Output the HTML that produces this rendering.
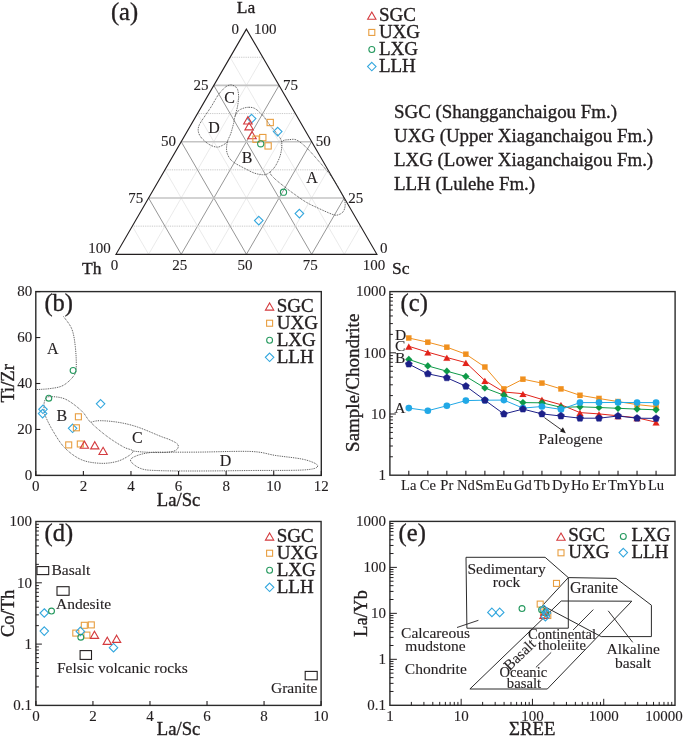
<!DOCTYPE html>
<html><head><meta charset="utf-8"><title>Geochemical diagrams</title>
<style>
html,body{margin:0;padding:0;background:#fff;}
body{width:685px;height:737px;overflow:hidden;}
svg{display:block;will-change:transform;}
svg text{font-family:"Liberation Serif", serif;stroke:#231f20;stroke-width:0.35px;}
svg text.s{stroke-width:0.12px;}
</style></head>
<body>
<svg width="685" height="737" viewBox="0 0 685 737">
<rect width="685" height="737" fill="#fff"/>
<line x1="230.10" y1="57.25" x2="262.71" y2="57.25" stroke="#b4b4b4" stroke-width="0.8" stroke-dasharray="0.9 0.9"/>
<line x1="148.61" y1="254.30" x2="262.71" y2="57.25" stroke="#e4e4e4" stroke-width="0.8" />
<line x1="344.29" y1="254.30" x2="230.10" y2="57.25" stroke="#e4e4e4" stroke-width="0.8" />
<line x1="213.80" y1="85.40" x2="279.02" y2="85.40" stroke="#c4c4c4" stroke-width="1.6" />
<line x1="181.22" y1="254.30" x2="279.02" y2="85.40" stroke="#8a8a8a" stroke-width="0.9" />
<line x1="311.67" y1="254.30" x2="213.80" y2="85.40" stroke="#8a8a8a" stroke-width="0.9" />
<line x1="197.50" y1="113.55" x2="295.34" y2="113.55" stroke="#b4b4b4" stroke-width="0.8" stroke-dasharray="0.9 0.9"/>
<line x1="213.84" y1="254.30" x2="295.34" y2="113.55" stroke="#e4e4e4" stroke-width="0.8" />
<line x1="279.06" y1="254.30" x2="197.50" y2="113.55" stroke="#e4e4e4" stroke-width="0.8" />
<line x1="181.20" y1="141.70" x2="311.65" y2="141.70" stroke="#c4c4c4" stroke-width="1.6" />
<line x1="246.45" y1="254.30" x2="311.65" y2="141.70" stroke="#8a8a8a" stroke-width="0.9" />
<line x1="246.45" y1="254.30" x2="181.20" y2="141.70" stroke="#8a8a8a" stroke-width="0.9" />
<line x1="164.90" y1="169.85" x2="327.96" y2="169.85" stroke="#b4b4b4" stroke-width="0.8" stroke-dasharray="0.9 0.9"/>
<line x1="279.06" y1="254.30" x2="327.96" y2="169.85" stroke="#e4e4e4" stroke-width="0.8" />
<line x1="213.84" y1="254.30" x2="164.90" y2="169.85" stroke="#e4e4e4" stroke-width="0.8" />
<line x1="148.60" y1="198.00" x2="344.27" y2="198.00" stroke="#c4c4c4" stroke-width="1.6" />
<line x1="311.67" y1="254.30" x2="344.27" y2="198.00" stroke="#8a8a8a" stroke-width="0.9" />
<line x1="181.22" y1="254.30" x2="148.60" y2="198.00" stroke="#8a8a8a" stroke-width="0.9" />
<line x1="132.30" y1="226.15" x2="360.59" y2="226.15" stroke="#b4b4b4" stroke-width="0.8" stroke-dasharray="0.9 0.9"/>
<line x1="344.29" y1="254.30" x2="360.59" y2="226.15" stroke="#e4e4e4" stroke-width="0.8" />
<line x1="148.61" y1="254.30" x2="132.30" y2="226.15" stroke="#e4e4e4" stroke-width="0.8" />
<path d="M246.40,29.10 L116.00,254.30 L376.90,254.30 Z" stroke="#231f20" stroke-width="1.15" fill="none" stroke-linejoin="miter" />
<text x="246.00" y="12.80" font-size="17.5" text-anchor="middle" fill="#231f20" >La</text>
<text x="82.00" y="273.60" font-size="17.5" text-anchor="start" fill="#231f20" >Th</text>
<text x="392.00" y="273.60" font-size="17.5" text-anchor="start" fill="#231f20" >Sc</text>
<text x="124.50" y="19.50" font-size="24.5" text-anchor="middle" fill="#231f20" >(a)</text>
<text class="s" x="239.10" y="33.70" font-size="15" text-anchor="end" fill="#231f20" >0</text>
<text class="s" x="208.50" y="90.00" font-size="15" text-anchor="end" fill="#231f20" >25</text>
<text class="s" x="175.90" y="146.30" font-size="15" text-anchor="end" fill="#231f20" >50</text>
<text class="s" x="143.30" y="202.60" font-size="15" text-anchor="end" fill="#231f20" >75</text>
<text class="s" x="110.70" y="252.80" font-size="15" text-anchor="end" fill="#231f20" >100</text>
<text class="s" x="254.00" y="33.70" font-size="15" text-anchor="start" fill="#231f20" >100</text>
<text class="s" x="283.02" y="90.00" font-size="15" text-anchor="start" fill="#231f20" >75</text>
<text class="s" x="315.65" y="146.30" font-size="15" text-anchor="start" fill="#231f20" >50</text>
<text class="s" x="348.27" y="202.60" font-size="15" text-anchor="start" fill="#231f20" >25</text>
<text class="s" x="379.90" y="252.50" font-size="15" text-anchor="start" fill="#231f20" >0</text>
<text class="s" x="114.50" y="269.60" font-size="15" text-anchor="middle" fill="#231f20" >0</text>
<text class="s" x="179.72" y="269.60" font-size="15" text-anchor="middle" fill="#231f20" >25</text>
<text class="s" x="244.95" y="269.60" font-size="15" text-anchor="middle" fill="#231f20" >50</text>
<text class="s" x="310.17" y="269.60" font-size="15" text-anchor="middle" fill="#231f20" >75</text>
<text class="s" x="373.90" y="269.60" font-size="15" text-anchor="middle" fill="#231f20" >100</text>
<path d="M249.20,107.30 C251.07,107.38 252.83,107.33 255.00,108.60 C257.17,109.87 259.70,112.17 262.20,114.90 C264.70,117.63 267.45,121.73 270.00,125.00 C272.55,128.27 275.57,131.68 277.50,134.50 C279.43,137.32 281.07,138.68 281.60,141.90 C282.13,145.12 281.65,149.92 280.70,153.80 C279.75,157.68 277.65,162.20 275.90,165.20 C274.15,168.20 272.10,170.22 270.20,171.80 C268.30,173.38 267.03,174.45 264.50,174.70 C261.97,174.95 258.17,174.28 255.00,173.30 C251.83,172.32 248.95,170.57 245.50,168.80 C242.05,167.03 237.02,164.57 234.30,162.70 C231.58,160.83 230.48,159.65 229.20,157.60 C227.92,155.55 226.88,153.08 226.60,150.40 C226.32,147.72 226.80,144.32 227.50,141.50 C228.20,138.68 229.80,136.45 230.80,133.50 C231.80,130.55 232.78,126.68 233.50,123.80 C234.22,120.92 234.28,118.37 235.10,116.20 C235.92,114.03 236.95,112.15 238.40,110.80 C239.85,109.45 242.00,108.68 243.80,108.10 C245.60,107.52 247.33,107.22 249.20,107.30 Z" fill="none" stroke="#3a3a3a" stroke-width="0.9" stroke-dasharray="0.9 0.9"/>
<path d="M235.10,116.20 C235.73,113.48 236.75,110.20 237.30,107.50 C237.85,104.80 238.22,102.35 238.40,100.00 C238.58,97.65 238.67,95.40 238.40,93.40 C238.13,91.40 237.88,89.40 236.80,88.00 C235.72,86.60 233.45,85.37 231.90,85.00 C230.35,84.63 228.95,85.12 227.50,85.80 C226.05,86.48 224.82,87.47 223.20,89.10 C221.58,90.73 219.78,92.70 217.80,95.60 C215.82,98.50 213.47,103.07 211.30,106.50 C209.13,109.93 206.80,113.13 204.80,116.20 C202.80,119.27 200.38,122.37 199.30,124.90 C198.22,127.43 197.93,129.23 198.30,131.40 C198.67,133.57 199.70,135.73 201.50,137.90 C203.30,140.07 206.57,142.87 209.10,144.40 C211.63,145.93 214.53,146.92 216.70,147.10 C218.87,147.28 220.30,146.43 222.10,145.50 C223.90,144.57 226.05,143.50 227.50,141.50" fill="none" stroke="#3a3a3a" stroke-width="0.9" stroke-dasharray="0.9 0.9"/>
<path d="M281.60,141.90 C283.15,139.53 287.43,139.88 290.00,139.60 C292.57,139.32 294.25,138.85 297.00,140.20 C299.75,141.55 302.98,144.33 306.50,147.70 C310.02,151.07 314.25,155.98 318.10,160.40 C321.95,164.82 326.15,169.58 329.60,174.20 C333.05,178.82 336.48,184.25 338.80,188.10 C341.12,191.95 342.43,194.62 343.50,197.30 C344.57,199.98 345.20,201.88 345.20,204.20 C345.20,206.52 344.57,209.47 343.50,211.20 C342.43,212.93 340.53,214.03 338.80,214.60 C337.07,215.17 336.55,215.68 333.10,214.60 C329.65,213.52 322.53,210.13 318.10,208.10 C313.67,206.07 310.35,204.65 306.50,202.40 C302.65,200.15 298.83,197.33 295.00,194.60 C291.17,191.87 287.08,188.85 283.50,186.00 C279.92,183.15 275.72,179.87 273.50,177.50 C271.28,175.13 269.80,173.85 270.20,171.80" fill="none" stroke="#3a3a3a" stroke-width="0.9" stroke-dasharray="0.9 0.9"/>
<text class="s" x="229.50" y="102.50" font-size="16" text-anchor="middle" fill="#231f20" >C</text>
<text class="s" x="214.00" y="132.50" font-size="16" text-anchor="middle" fill="#231f20" >D</text>
<text class="s" x="247.00" y="162.50" font-size="16" text-anchor="middle" fill="#231f20" >B</text>
<text class="s" x="312.00" y="183.00" font-size="16" text-anchor="middle" fill="#231f20" >A</text>
<path d="M251.60,114.30 L255.90,118.60 L251.60,122.90 L247.30,118.60 Z" stroke="#33a7de" stroke-width="1.1" fill="none" stroke-linejoin="miter" />
<path d="M277.70,127.30 L282.00,131.60 L277.70,135.90 L273.40,131.60 Z" stroke="#33a7de" stroke-width="1.1" fill="none" stroke-linejoin="miter" />
<path d="M299.40,209.30 L303.70,213.60 L299.40,217.90 L295.10,213.60 Z" stroke="#33a7de" stroke-width="1.1" fill="none" stroke-linejoin="miter" />
<path d="M258.80,216.30 L263.10,220.60 L258.80,224.90 L254.50,220.60 Z" stroke="#33a7de" stroke-width="1.1" fill="none" stroke-linejoin="miter" />
<path d="M247.90,116.62 L252.15,123.98 L243.65,123.98 Z" stroke="#d43a3e" stroke-width="1.1" fill="none" stroke-linejoin="miter" />
<path d="M249.10,122.52 L253.35,129.88 L244.85,129.88 Z" stroke="#d43a3e" stroke-width="1.1" fill="none" stroke-linejoin="miter" />
<path d="M252.00,131.42 L256.25,138.78 L247.75,138.78 Z" stroke="#d43a3e" stroke-width="1.1" fill="none" stroke-linejoin="miter" />
<rect x="267.05" y="119.35" width="6.3" height="6.3" stroke="#e89e40" stroke-width="1.1" fill="none"/>
<rect x="259.65" y="134.45" width="6.3" height="6.3" stroke="#e89e40" stroke-width="1.1" fill="none"/>
<rect x="252.85" y="136.05" width="6.3" height="6.3" stroke="#e89e40" stroke-width="1.1" fill="none"/>
<rect x="264.95" y="142.75" width="6.3" height="6.3" stroke="#e89e40" stroke-width="1.1" fill="none"/>
<circle cx="260.70" cy="143.80" r="3.1" stroke="#26995f" stroke-width="1.1" fill="none"/>
<circle cx="283.50" cy="192.20" r="3.1" stroke="#26995f" stroke-width="1.1" fill="none"/>
<path d="M371.80,12.06 L375.95,19.24 L367.65,19.24 Z" stroke="#d43a3e" stroke-width="1.1" fill="none" stroke-linejoin="miter" />
<text x="378.90" y="20.87" font-size="19" text-anchor="start" fill="#231f20" >SGC</text>
<rect x="368.80" y="29.42" width="6.0" height="6.0" stroke="#e89e40" stroke-width="1.1" fill="none"/>
<text x="378.90" y="37.94" font-size="19" text-anchor="start" fill="#231f20" >UXG</text>
<circle cx="371.80" cy="49.49" r="2.95" stroke="#26995f" stroke-width="1.1" fill="none"/>
<text x="378.90" y="55.01" font-size="19" text-anchor="start" fill="#231f20" >LXG</text>
<path d="M371.80,62.31 L376.05,66.56 L371.80,70.81 L367.55,66.56 Z" stroke="#33a7de" stroke-width="1.1" fill="none" stroke-linejoin="miter" />
<text x="378.90" y="72.08" font-size="19" text-anchor="start" fill="#231f20" >LLH</text>
<text x="394.00" y="118.40" font-size="18.9" text-anchor="start" fill="#231f20" >SGC (Shangganchaigou Fm.)</text>
<text x="394.00" y="142.20" font-size="18.9" text-anchor="start" fill="#231f20" >UXG (Upper Xiaganchaigou Fm.)</text>
<text x="394.00" y="166.00" font-size="18.9" text-anchor="start" fill="#231f20" >LXG (Lower Xiaganchaigou Fm.)</text>
<text x="394.00" y="189.80" font-size="18.9" text-anchor="start" fill="#231f20" >LLH (Lulehe Fm.)</text>
<path d="M63.50,316.50 C64.88,318.58 69.83,323.98 71.80,329.00 C73.77,334.02 74.57,340.17 75.30,346.60 C76.03,353.03 76.52,362.65 76.20,367.60 C75.88,372.55 75.60,373.32 73.40,376.30 C71.20,379.28 66.90,383.45 63.00,385.50 C59.10,387.55 54.58,387.92 50.00,388.60 C45.42,389.28 37.92,389.43 35.50,389.60" fill="none" stroke="#3a3a3a" stroke-width="0.9" stroke-dasharray="0.9 0.9"/>
<path d="M48.70,396.70 C52.03,396.53 59.55,396.67 65.00,399.00 C70.45,401.33 77.12,406.80 81.40,410.70 C85.68,414.60 86.42,418.12 90.70,422.40 C94.98,426.68 101.65,432.32 107.10,436.40 C112.55,440.48 119.12,444.48 123.40,446.90 C127.68,449.32 132.02,449.35 132.80,450.90 C133.58,452.45 130.83,454.42 128.10,456.20 C125.37,457.98 121.07,460.42 116.40,461.60 C111.73,462.78 105.93,463.62 100.10,463.30 C94.27,462.98 87.25,462.23 81.40,459.70 C75.55,457.17 69.67,452.77 65.00,448.10 C60.33,443.43 56.70,437.15 53.40,431.70 C50.10,426.25 46.77,419.68 45.20,415.40 C43.63,411.12 44.03,408.57 44.00,406.00 C43.97,403.43 44.22,401.55 45.00,400.00 C45.78,398.45 45.37,396.87 48.70,396.70 Z" fill="none" stroke="#3a3a3a" stroke-width="0.9" stroke-dasharray="0.9 0.9"/>
<path d="M132.80,450.90 C137.48,451.82 145.63,452.18 151.50,452.40 C157.37,452.62 163.83,452.63 168.00,452.20 C172.17,451.77 174.87,451.08 176.50,449.80 C178.13,448.52 178.88,446.17 177.80,444.50 C176.72,442.83 172.83,441.15 170.00,439.80 C167.17,438.45 166.22,438.53 160.80,436.40 C155.38,434.27 144.50,429.33 137.50,427.00 C130.50,424.67 125.03,423.45 118.80,422.40 C112.57,421.35 104.78,420.70 100.10,420.70 C95.42,420.70 93.22,421.52 90.70,422.40" fill="none" stroke="#3a3a3a" stroke-width="0.9" stroke-dasharray="0.9 0.9"/>
<path d="M130.60,460.80 C129.93,458.63 133.52,457.00 137.00,455.60 C140.48,454.20 146.33,452.97 151.50,452.40 C156.67,451.83 159.92,452.25 168.00,452.20 C176.08,452.15 186.12,452.22 200.00,452.10 C213.88,451.98 238.67,450.93 251.30,451.50 C263.93,452.07 266.93,454.15 275.80,455.50 C284.67,456.85 297.52,457.88 304.50,459.60 C311.48,461.32 317.70,464.08 317.70,465.80 C317.70,467.52 315.57,469.12 304.50,469.90 C293.43,470.68 268.72,470.32 251.30,470.50 C233.88,470.68 215.47,470.98 200.00,471.00 C184.53,471.02 168.33,471.00 158.50,470.60 C148.67,470.20 145.65,470.23 141.00,468.60 C136.35,466.97 131.27,462.97 130.60,460.80 Z" fill="none" stroke="#3a3a3a" stroke-width="0.9" stroke-dasharray="0.9 0.9"/>
<rect x="35.80" y="291.60" width="285.50" height="183.80" fill="none" stroke="#2b2b2b" stroke-width="1.4"/>
<line x1="35.80" y1="475.40" x2="35.80" y2="470.90" stroke="#231f20" stroke-width="1.1" />
<text class="s" x="35.80" y="490.90" font-size="15" text-anchor="middle" fill="#231f20" >0</text>
<line x1="83.38" y1="475.40" x2="83.38" y2="470.90" stroke="#231f20" stroke-width="1.1" />
<text class="s" x="83.38" y="490.90" font-size="15" text-anchor="middle" fill="#231f20" >2</text>
<line x1="130.97" y1="475.40" x2="130.97" y2="470.90" stroke="#231f20" stroke-width="1.1" />
<text class="s" x="130.97" y="490.90" font-size="15" text-anchor="middle" fill="#231f20" >4</text>
<line x1="178.55" y1="475.40" x2="178.55" y2="470.90" stroke="#231f20" stroke-width="1.1" />
<text class="s" x="178.55" y="490.90" font-size="15" text-anchor="middle" fill="#231f20" >6</text>
<line x1="226.13" y1="475.40" x2="226.13" y2="470.90" stroke="#231f20" stroke-width="1.1" />
<text class="s" x="226.13" y="490.90" font-size="15" text-anchor="middle" fill="#231f20" >8</text>
<line x1="273.72" y1="475.40" x2="273.72" y2="470.90" stroke="#231f20" stroke-width="1.1" />
<text class="s" x="273.72" y="490.90" font-size="15" text-anchor="middle" fill="#231f20" >10</text>
<line x1="321.30" y1="475.40" x2="321.30" y2="470.90" stroke="#231f20" stroke-width="1.1" />
<text class="s" x="321.30" y="490.90" font-size="15" text-anchor="middle" fill="#231f20" >12</text>
<line x1="35.80" y1="475.40" x2="40.30" y2="475.40" stroke="#231f20" stroke-width="1.1" />
<text class="s" x="32.30" y="480.20" font-size="15" text-anchor="end" fill="#231f20" >0</text>
<line x1="35.80" y1="429.45" x2="40.30" y2="429.45" stroke="#231f20" stroke-width="1.1" />
<text class="s" x="32.30" y="434.25" font-size="15" text-anchor="end" fill="#231f20" >20</text>
<line x1="35.80" y1="383.50" x2="40.30" y2="383.50" stroke="#231f20" stroke-width="1.1" />
<text class="s" x="32.30" y="388.30" font-size="15" text-anchor="end" fill="#231f20" >40</text>
<line x1="35.80" y1="337.55" x2="40.30" y2="337.55" stroke="#231f20" stroke-width="1.1" />
<text class="s" x="32.30" y="342.35" font-size="15" text-anchor="end" fill="#231f20" >60</text>
<line x1="35.80" y1="291.60" x2="40.30" y2="291.60" stroke="#231f20" stroke-width="1.1" />
<text class="s" x="32.30" y="296.40" font-size="15" text-anchor="end" fill="#231f20" >80</text>
<text x="178.60" y="505.80" font-size="18.7" text-anchor="middle" fill="#231f20" >La/Sc</text>
<text x="13.60" y="383.40" font-size="18.5" text-anchor="middle" fill="#231f20" transform="rotate(-90 13.6 383.4)">Ti/Zr</text>
<text x="58.70" y="311.20" font-size="24.5" text-anchor="middle" fill="#231f20" >(b)</text>
<text class="s" x="52.70" y="353.80" font-size="16" text-anchor="middle" fill="#231f20" >A</text>
<text class="s" x="61.80" y="420.80" font-size="16" text-anchor="middle" fill="#231f20" >B</text>
<text class="s" x="137.40" y="443.40" font-size="16" text-anchor="middle" fill="#231f20" >C</text>
<text class="s" x="225.50" y="466.20" font-size="16" text-anchor="middle" fill="#231f20" >D</text>
<circle cx="73.10" cy="370.50" r="2.95" stroke="#26995f" stroke-width="1.1" fill="none"/>
<circle cx="48.80" cy="398.20" r="2.95" stroke="#26995f" stroke-width="1.1" fill="none"/>
<path d="M43.00,405.05 L47.25,409.30 L43.00,413.55 L38.75,409.30 Z" stroke="#33a7de" stroke-width="1.1" fill="none" stroke-linejoin="miter" />
<path d="M42.60,409.35 L46.85,413.60 L42.60,417.85 L38.35,413.60 Z" stroke="#33a7de" stroke-width="1.1" fill="none" stroke-linejoin="miter" />
<path d="M100.60,399.55 L104.85,403.80 L100.60,408.05 L96.35,403.80 Z" stroke="#33a7de" stroke-width="1.1" fill="none" stroke-linejoin="miter" />
<path d="M72.60,424.05 L76.85,428.30 L72.60,432.55 L68.35,428.30 Z" stroke="#33a7de" stroke-width="1.1" fill="none" stroke-linejoin="miter" />
<rect x="75.40" y="413.80" width="6.0" height="6.0" stroke="#e89e40" stroke-width="1.1" fill="none"/>
<rect x="73.40" y="424.80" width="6.0" height="6.0" stroke="#e89e40" stroke-width="1.1" fill="none"/>
<rect x="65.70" y="441.90" width="6.0" height="6.0" stroke="#e89e40" stroke-width="1.1" fill="none"/>
<rect x="77.30" y="441.00" width="6.0" height="6.0" stroke="#e89e40" stroke-width="1.1" fill="none"/>
<path d="M84.40,441.11 L88.55,448.29 L80.25,448.29 Z" stroke="#d43a3e" stroke-width="1.1" fill="none" stroke-linejoin="miter" />
<path d="M94.80,441.71 L98.95,448.89 L90.65,448.89 Z" stroke="#d43a3e" stroke-width="1.1" fill="none" stroke-linejoin="miter" />
<path d="M103.10,447.31 L107.25,454.49 L98.95,454.49 Z" stroke="#d43a3e" stroke-width="1.1" fill="none" stroke-linejoin="miter" />
<path d="M269.60,302.91 L273.75,310.09 L265.45,310.09 Z" stroke="#d43a3e" stroke-width="1.1" fill="none" stroke-linejoin="miter" />
<text x="276.70" y="311.72" font-size="19" text-anchor="start" fill="#231f20" >SGC</text>
<rect x="266.60" y="320.23" width="6.0" height="6.0" stroke="#e89e40" stroke-width="1.1" fill="none"/>
<text x="276.70" y="328.75" font-size="19" text-anchor="start" fill="#231f20" >UXG</text>
<circle cx="269.60" cy="340.26" r="2.95" stroke="#26995f" stroke-width="1.1" fill="none"/>
<text x="276.70" y="345.78" font-size="19" text-anchor="start" fill="#231f20" >LXG</text>
<path d="M269.60,353.04 L273.85,357.29 L269.60,361.54 L265.35,357.29 Z" stroke="#33a7de" stroke-width="1.1" fill="none" stroke-linejoin="miter" />
<text x="276.70" y="362.81" font-size="19" text-anchor="start" fill="#231f20" >LLH</text>
<rect x="389.90" y="291.60" width="285.20" height="183.60" fill="none" stroke="#2b2b2b" stroke-width="1.4"/>
<line x1="408.80" y1="475.20" x2="408.80" y2="470.70" stroke="#231f20" stroke-width="1.1" />
<line x1="427.82" y1="475.20" x2="427.82" y2="470.70" stroke="#231f20" stroke-width="1.1" />
<line x1="446.84" y1="475.20" x2="446.84" y2="470.70" stroke="#231f20" stroke-width="1.1" />
<line x1="465.86" y1="475.20" x2="465.86" y2="470.70" stroke="#231f20" stroke-width="1.1" />
<line x1="484.88" y1="475.20" x2="484.88" y2="470.70" stroke="#231f20" stroke-width="1.1" />
<line x1="503.90" y1="475.20" x2="503.90" y2="470.70" stroke="#231f20" stroke-width="1.1" />
<line x1="522.92" y1="475.20" x2="522.92" y2="470.70" stroke="#231f20" stroke-width="1.1" />
<line x1="541.94" y1="475.20" x2="541.94" y2="470.70" stroke="#231f20" stroke-width="1.1" />
<line x1="560.96" y1="475.20" x2="560.96" y2="470.70" stroke="#231f20" stroke-width="1.1" />
<line x1="579.98" y1="475.20" x2="579.98" y2="470.70" stroke="#231f20" stroke-width="1.1" />
<line x1="599.00" y1="475.20" x2="599.00" y2="470.70" stroke="#231f20" stroke-width="1.1" />
<line x1="618.02" y1="475.20" x2="618.02" y2="470.70" stroke="#231f20" stroke-width="1.1" />
<line x1="637.04" y1="475.20" x2="637.04" y2="470.70" stroke="#231f20" stroke-width="1.1" />
<line x1="656.06" y1="475.20" x2="656.06" y2="470.70" stroke="#231f20" stroke-width="1.1" />
<text class="s" x="408.80" y="490.20" font-size="14.6" text-anchor="middle" fill="#231f20" >La</text>
<text class="s" x="427.82" y="490.20" font-size="14.6" text-anchor="middle" fill="#231f20" >Ce</text>
<text class="s" x="446.84" y="490.20" font-size="14.6" text-anchor="middle" fill="#231f20" >Pr</text>
<text class="s" x="465.86" y="490.20" font-size="14.6" text-anchor="middle" fill="#231f20" >Nd</text>
<text class="s" x="484.88" y="490.20" font-size="14.6" text-anchor="middle" fill="#231f20" >Sm</text>
<text class="s" x="503.90" y="490.20" font-size="14.6" text-anchor="middle" fill="#231f20" >Eu</text>
<text class="s" x="522.92" y="490.20" font-size="14.6" text-anchor="middle" fill="#231f20" >Gd</text>
<text class="s" x="541.94" y="490.20" font-size="14.6" text-anchor="middle" fill="#231f20" >Tb</text>
<text class="s" x="560.96" y="490.20" font-size="14.6" text-anchor="middle" fill="#231f20" >Dy</text>
<text class="s" x="579.98" y="490.20" font-size="14.6" text-anchor="middle" fill="#231f20" >Ho</text>
<text class="s" x="599.00" y="490.20" font-size="14.6" text-anchor="middle" fill="#231f20" >Er</text>
<text class="s" x="618.02" y="490.20" font-size="14.6" text-anchor="middle" fill="#231f20" >Tm</text>
<text class="s" x="637.04" y="490.20" font-size="14.6" text-anchor="middle" fill="#231f20" >Yb</text>
<text class="s" x="656.06" y="490.20" font-size="14.6" text-anchor="middle" fill="#231f20" >Lu</text>
<line x1="389.90" y1="456.78" x2="392.90" y2="456.78" stroke="#231f20" stroke-width="1.0" />
<line x1="389.90" y1="446.00" x2="392.90" y2="446.00" stroke="#231f20" stroke-width="1.0" />
<line x1="389.90" y1="438.35" x2="392.90" y2="438.35" stroke="#231f20" stroke-width="1.0" />
<line x1="389.90" y1="432.42" x2="392.90" y2="432.42" stroke="#231f20" stroke-width="1.0" />
<line x1="389.90" y1="427.58" x2="392.90" y2="427.58" stroke="#231f20" stroke-width="1.0" />
<line x1="389.90" y1="423.48" x2="392.90" y2="423.48" stroke="#231f20" stroke-width="1.0" />
<line x1="389.90" y1="419.93" x2="392.90" y2="419.93" stroke="#231f20" stroke-width="1.0" />
<line x1="389.90" y1="416.80" x2="392.90" y2="416.80" stroke="#231f20" stroke-width="1.0" />
<line x1="389.90" y1="414.00" x2="395.90" y2="414.00" stroke="#231f20" stroke-width="1.0" />
<line x1="389.90" y1="395.58" x2="392.90" y2="395.58" stroke="#231f20" stroke-width="1.0" />
<line x1="389.90" y1="384.80" x2="392.90" y2="384.80" stroke="#231f20" stroke-width="1.0" />
<line x1="389.90" y1="377.15" x2="392.90" y2="377.15" stroke="#231f20" stroke-width="1.0" />
<line x1="389.90" y1="371.22" x2="392.90" y2="371.22" stroke="#231f20" stroke-width="1.0" />
<line x1="389.90" y1="366.38" x2="392.90" y2="366.38" stroke="#231f20" stroke-width="1.0" />
<line x1="389.90" y1="362.28" x2="392.90" y2="362.28" stroke="#231f20" stroke-width="1.0" />
<line x1="389.90" y1="358.73" x2="392.90" y2="358.73" stroke="#231f20" stroke-width="1.0" />
<line x1="389.90" y1="355.60" x2="392.90" y2="355.60" stroke="#231f20" stroke-width="1.0" />
<line x1="389.90" y1="352.80" x2="395.90" y2="352.80" stroke="#231f20" stroke-width="1.0" />
<line x1="389.90" y1="334.38" x2="392.90" y2="334.38" stroke="#231f20" stroke-width="1.0" />
<line x1="389.90" y1="323.60" x2="392.90" y2="323.60" stroke="#231f20" stroke-width="1.0" />
<line x1="389.90" y1="315.95" x2="392.90" y2="315.95" stroke="#231f20" stroke-width="1.0" />
<line x1="389.90" y1="310.02" x2="392.90" y2="310.02" stroke="#231f20" stroke-width="1.0" />
<line x1="389.90" y1="305.18" x2="392.90" y2="305.18" stroke="#231f20" stroke-width="1.0" />
<line x1="389.90" y1="301.08" x2="392.90" y2="301.08" stroke="#231f20" stroke-width="1.0" />
<line x1="389.90" y1="297.53" x2="392.90" y2="297.53" stroke="#231f20" stroke-width="1.0" />
<line x1="389.90" y1="294.40" x2="392.90" y2="294.40" stroke="#231f20" stroke-width="1.0" />
<text class="s" x="385.90" y="480.00" font-size="15" text-anchor="end" fill="#231f20" >1</text>
<text class="s" x="385.90" y="418.80" font-size="15" text-anchor="end" fill="#231f20" >10</text>
<text class="s" x="385.90" y="357.60" font-size="15" text-anchor="end" fill="#231f20" >100</text>
<text class="s" x="385.90" y="296.40" font-size="15" text-anchor="end" fill="#231f20" >1000</text>
<text x="359.00" y="382.80" font-size="19.0" text-anchor="middle" fill="#231f20" transform="rotate(-90 359.0 382.8)">Sample/Chondrite</text>
<text x="414.20" y="311.20" font-size="24.5" text-anchor="middle" fill="#231f20" >(c)</text>
<path d="M408.80,338.00 L427.82,342.20 L446.84,347.20 L465.86,354.20 L484.88,367.00 L503.90,388.90 L522.92,379.20 L541.94,383.10 L560.96,388.90 L579.98,395.30 L599.00,398.50 L618.02,401.60 L637.04,404.60 L656.06,406.60" stroke="#f0901e" stroke-width="1.0" fill="none" stroke-linejoin="miter" />
<rect x="406.10" y="335.30" width="5.4" height="5.4" stroke="#f0901e" stroke-width="0.1" fill="#f0901e"/>
<rect x="425.12" y="339.50" width="5.4" height="5.4" stroke="#f0901e" stroke-width="0.1" fill="#f0901e"/>
<rect x="444.14" y="344.50" width="5.4" height="5.4" stroke="#f0901e" stroke-width="0.1" fill="#f0901e"/>
<rect x="463.16" y="351.50" width="5.4" height="5.4" stroke="#f0901e" stroke-width="0.1" fill="#f0901e"/>
<rect x="482.18" y="364.30" width="5.4" height="5.4" stroke="#f0901e" stroke-width="0.1" fill="#f0901e"/>
<rect x="501.20" y="386.20" width="5.4" height="5.4" stroke="#f0901e" stroke-width="0.1" fill="#f0901e"/>
<rect x="520.22" y="376.50" width="5.4" height="5.4" stroke="#f0901e" stroke-width="0.1" fill="#f0901e"/>
<rect x="539.24" y="380.40" width="5.4" height="5.4" stroke="#f0901e" stroke-width="0.1" fill="#f0901e"/>
<rect x="558.26" y="386.20" width="5.4" height="5.4" stroke="#f0901e" stroke-width="0.1" fill="#f0901e"/>
<rect x="577.28" y="392.60" width="5.4" height="5.4" stroke="#f0901e" stroke-width="0.1" fill="#f0901e"/>
<rect x="596.30" y="395.80" width="5.4" height="5.4" stroke="#f0901e" stroke-width="0.1" fill="#f0901e"/>
<rect x="615.32" y="398.90" width="5.4" height="5.4" stroke="#f0901e" stroke-width="0.1" fill="#f0901e"/>
<rect x="634.34" y="401.90" width="5.4" height="5.4" stroke="#f0901e" stroke-width="0.1" fill="#f0901e"/>
<rect x="653.36" y="403.90" width="5.4" height="5.4" stroke="#f0901e" stroke-width="0.1" fill="#f0901e"/>
<path d="M408.80,346.30 L427.82,352.20 L446.84,357.50 L465.86,362.60 L484.88,380.60 L503.90,392.00 L522.92,393.70 L541.94,399.40 L560.96,404.70 L579.98,412.60 L599.00,413.90 L618.02,415.80 L637.04,417.80 L656.06,422.20" stroke="#e2231a" stroke-width="1.0" fill="none" stroke-linejoin="miter" />
<path d="M408.80,343.57 L412.30,349.63 L405.30,349.63 Z" stroke="#e2231a" stroke-width="0.1" fill="#e2231a" stroke-linejoin="miter" />
<path d="M427.82,349.47 L431.32,355.53 L424.32,355.53 Z" stroke="#e2231a" stroke-width="0.1" fill="#e2231a" stroke-linejoin="miter" />
<path d="M446.84,354.77 L450.34,360.83 L443.34,360.83 Z" stroke="#e2231a" stroke-width="0.1" fill="#e2231a" stroke-linejoin="miter" />
<path d="M465.86,359.87 L469.36,365.93 L462.36,365.93 Z" stroke="#e2231a" stroke-width="0.1" fill="#e2231a" stroke-linejoin="miter" />
<path d="M484.88,377.87 L488.38,383.93 L481.38,383.93 Z" stroke="#e2231a" stroke-width="0.1" fill="#e2231a" stroke-linejoin="miter" />
<path d="M503.90,389.27 L507.40,395.33 L500.40,395.33 Z" stroke="#e2231a" stroke-width="0.1" fill="#e2231a" stroke-linejoin="miter" />
<path d="M522.92,390.97 L526.42,397.03 L519.42,397.03 Z" stroke="#e2231a" stroke-width="0.1" fill="#e2231a" stroke-linejoin="miter" />
<path d="M541.94,396.67 L545.44,402.73 L538.44,402.73 Z" stroke="#e2231a" stroke-width="0.1" fill="#e2231a" stroke-linejoin="miter" />
<path d="M560.96,401.97 L564.46,408.03 L557.46,408.03 Z" stroke="#e2231a" stroke-width="0.1" fill="#e2231a" stroke-linejoin="miter" />
<path d="M579.98,409.87 L583.48,415.93 L576.48,415.93 Z" stroke="#e2231a" stroke-width="0.1" fill="#e2231a" stroke-linejoin="miter" />
<path d="M599.00,411.17 L602.50,417.23 L595.50,417.23 Z" stroke="#e2231a" stroke-width="0.1" fill="#e2231a" stroke-linejoin="miter" />
<path d="M618.02,413.07 L621.52,419.13 L614.52,419.13 Z" stroke="#e2231a" stroke-width="0.1" fill="#e2231a" stroke-linejoin="miter" />
<path d="M637.04,415.07 L640.54,421.13 L633.54,421.13 Z" stroke="#e2231a" stroke-width="0.1" fill="#e2231a" stroke-linejoin="miter" />
<path d="M656.06,419.47 L659.56,425.53 L652.56,425.53 Z" stroke="#e2231a" stroke-width="0.1" fill="#e2231a" stroke-linejoin="miter" />
<path d="M408.80,359.40 L427.82,365.90 L446.84,371.20 L465.86,376.40 L484.88,388.00 L503.90,395.20 L522.92,402.60 L541.94,402.80 L560.96,407.30 L579.98,406.80 L599.00,407.50 L618.02,408.30 L637.04,409.10 L656.06,409.80" stroke="#0e9a48" stroke-width="1.0" fill="none" stroke-linejoin="miter" />
<path d="M408.80,355.80 L412.40,359.40 L408.80,363.00 L405.20,359.40 Z" stroke="#0e9a48" stroke-width="0.1" fill="#0e9a48" stroke-linejoin="miter" />
<path d="M427.82,362.30 L431.42,365.90 L427.82,369.50 L424.22,365.90 Z" stroke="#0e9a48" stroke-width="0.1" fill="#0e9a48" stroke-linejoin="miter" />
<path d="M446.84,367.60 L450.44,371.20 L446.84,374.80 L443.24,371.20 Z" stroke="#0e9a48" stroke-width="0.1" fill="#0e9a48" stroke-linejoin="miter" />
<path d="M465.86,372.80 L469.46,376.40 L465.86,380.00 L462.26,376.40 Z" stroke="#0e9a48" stroke-width="0.1" fill="#0e9a48" stroke-linejoin="miter" />
<path d="M484.88,384.40 L488.48,388.00 L484.88,391.60 L481.28,388.00 Z" stroke="#0e9a48" stroke-width="0.1" fill="#0e9a48" stroke-linejoin="miter" />
<path d="M503.90,391.60 L507.50,395.20 L503.90,398.80 L500.30,395.20 Z" stroke="#0e9a48" stroke-width="0.1" fill="#0e9a48" stroke-linejoin="miter" />
<path d="M522.92,399.00 L526.52,402.60 L522.92,406.20 L519.32,402.60 Z" stroke="#0e9a48" stroke-width="0.1" fill="#0e9a48" stroke-linejoin="miter" />
<path d="M541.94,399.20 L545.54,402.80 L541.94,406.40 L538.34,402.80 Z" stroke="#0e9a48" stroke-width="0.1" fill="#0e9a48" stroke-linejoin="miter" />
<path d="M560.96,403.70 L564.56,407.30 L560.96,410.90 L557.36,407.30 Z" stroke="#0e9a48" stroke-width="0.1" fill="#0e9a48" stroke-linejoin="miter" />
<path d="M579.98,403.20 L583.58,406.80 L579.98,410.40 L576.38,406.80 Z" stroke="#0e9a48" stroke-width="0.1" fill="#0e9a48" stroke-linejoin="miter" />
<path d="M599.00,403.90 L602.60,407.50 L599.00,411.10 L595.40,407.50 Z" stroke="#0e9a48" stroke-width="0.1" fill="#0e9a48" stroke-linejoin="miter" />
<path d="M618.02,404.70 L621.62,408.30 L618.02,411.90 L614.42,408.30 Z" stroke="#0e9a48" stroke-width="0.1" fill="#0e9a48" stroke-linejoin="miter" />
<path d="M637.04,405.50 L640.64,409.10 L637.04,412.70 L633.44,409.10 Z" stroke="#0e9a48" stroke-width="0.1" fill="#0e9a48" stroke-linejoin="miter" />
<path d="M656.06,406.20 L659.66,409.80 L656.06,413.40 L652.46,409.80 Z" stroke="#0e9a48" stroke-width="0.1" fill="#0e9a48" stroke-linejoin="miter" />
<path d="M408.80,408.10 L427.82,410.70 L446.84,405.80 L465.86,400.60 L484.88,400.20 L503.90,400.10 L522.92,408.10 L541.94,406.50 L560.96,409.40 L579.98,402.60 L599.00,402.60 L618.02,402.40 L637.04,402.60 L656.06,402.60" stroke="#21a8e6" stroke-width="1.0" fill="none" stroke-linejoin="miter" />
<circle cx="408.80" cy="408.10" r="3.3" stroke="#21a8e6" stroke-width="0.1" fill="#21a8e6"/>
<circle cx="427.82" cy="410.70" r="3.3" stroke="#21a8e6" stroke-width="0.1" fill="#21a8e6"/>
<circle cx="446.84" cy="405.80" r="3.3" stroke="#21a8e6" stroke-width="0.1" fill="#21a8e6"/>
<circle cx="465.86" cy="400.60" r="3.3" stroke="#21a8e6" stroke-width="0.1" fill="#21a8e6"/>
<circle cx="484.88" cy="400.20" r="3.3" stroke="#21a8e6" stroke-width="0.1" fill="#21a8e6"/>
<circle cx="503.90" cy="400.10" r="3.3" stroke="#21a8e6" stroke-width="0.1" fill="#21a8e6"/>
<circle cx="522.92" cy="408.10" r="3.3" stroke="#21a8e6" stroke-width="0.1" fill="#21a8e6"/>
<circle cx="541.94" cy="406.50" r="3.3" stroke="#21a8e6" stroke-width="0.1" fill="#21a8e6"/>
<circle cx="560.96" cy="409.40" r="3.3" stroke="#21a8e6" stroke-width="0.1" fill="#21a8e6"/>
<circle cx="579.98" cy="402.60" r="3.3" stroke="#21a8e6" stroke-width="0.1" fill="#21a8e6"/>
<circle cx="599.00" cy="402.60" r="3.3" stroke="#21a8e6" stroke-width="0.1" fill="#21a8e6"/>
<circle cx="618.02" cy="402.40" r="3.3" stroke="#21a8e6" stroke-width="0.1" fill="#21a8e6"/>
<circle cx="637.04" cy="402.60" r="3.3" stroke="#21a8e6" stroke-width="0.1" fill="#21a8e6"/>
<circle cx="656.06" cy="402.60" r="3.3" stroke="#21a8e6" stroke-width="0.1" fill="#21a8e6"/>
<path d="M408.80,364.10 L427.82,373.80 L446.84,377.80 L465.86,386.20 L484.88,400.20 L503.90,414.00 L522.92,409.10 L541.94,413.90 L560.96,416.00 L579.98,418.20 L599.00,418.20 L618.02,416.00 L637.04,418.20 L656.06,418.40" stroke="#1d2088" stroke-width="1.0" fill="none" stroke-linejoin="miter" />
<path d="M408.80,360.40 L412.32,362.96 L410.97,367.09 L406.63,367.09 L405.28,362.96 Z" stroke="#1d2088" stroke-width="0.5" fill="#1d2088" stroke-linejoin="miter" />
<path d="M427.82,370.10 L431.34,372.66 L429.99,376.79 L425.65,376.79 L424.30,372.66 Z" stroke="#1d2088" stroke-width="0.5" fill="#1d2088" stroke-linejoin="miter" />
<path d="M446.84,374.10 L450.36,376.66 L449.01,380.79 L444.67,380.79 L443.32,376.66 Z" stroke="#1d2088" stroke-width="0.5" fill="#1d2088" stroke-linejoin="miter" />
<path d="M465.86,382.50 L469.38,385.06 L468.03,389.19 L463.69,389.19 L462.34,385.06 Z" stroke="#1d2088" stroke-width="0.5" fill="#1d2088" stroke-linejoin="miter" />
<path d="M484.88,396.50 L488.40,399.06 L487.05,403.19 L482.71,403.19 L481.36,399.06 Z" stroke="#1d2088" stroke-width="0.5" fill="#1d2088" stroke-linejoin="miter" />
<path d="M503.90,410.30 L507.42,412.86 L506.07,416.99 L501.73,416.99 L500.38,412.86 Z" stroke="#1d2088" stroke-width="0.5" fill="#1d2088" stroke-linejoin="miter" />
<path d="M522.92,405.40 L526.44,407.96 L525.09,412.09 L520.75,412.09 L519.40,407.96 Z" stroke="#1d2088" stroke-width="0.5" fill="#1d2088" stroke-linejoin="miter" />
<path d="M541.94,410.20 L545.46,412.76 L544.11,416.89 L539.77,416.89 L538.42,412.76 Z" stroke="#1d2088" stroke-width="0.5" fill="#1d2088" stroke-linejoin="miter" />
<path d="M560.96,412.30 L564.48,414.86 L563.13,418.99 L558.79,418.99 L557.44,414.86 Z" stroke="#1d2088" stroke-width="0.5" fill="#1d2088" stroke-linejoin="miter" />
<path d="M579.98,414.50 L583.50,417.06 L582.15,421.19 L577.81,421.19 L576.46,417.06 Z" stroke="#1d2088" stroke-width="0.5" fill="#1d2088" stroke-linejoin="miter" />
<path d="M599.00,414.50 L602.52,417.06 L601.17,421.19 L596.83,421.19 L595.48,417.06 Z" stroke="#1d2088" stroke-width="0.5" fill="#1d2088" stroke-linejoin="miter" />
<path d="M618.02,412.30 L621.54,414.86 L620.19,418.99 L615.85,418.99 L614.50,414.86 Z" stroke="#1d2088" stroke-width="0.5" fill="#1d2088" stroke-linejoin="miter" />
<path d="M637.04,414.50 L640.56,417.06 L639.21,421.19 L634.87,421.19 L633.52,417.06 Z" stroke="#1d2088" stroke-width="0.5" fill="#1d2088" stroke-linejoin="miter" />
<path d="M656.06,414.70 L659.58,417.26 L658.23,421.39 L653.89,421.39 L652.54,417.26 Z" stroke="#1d2088" stroke-width="0.5" fill="#1d2088" stroke-linejoin="miter" />
<text class="s" x="400.50" y="340.00" font-size="15.5" text-anchor="middle" fill="#231f20" >D</text>
<text class="s" x="400.20" y="350.50" font-size="15.5" text-anchor="middle" fill="#231f20" >C</text>
<text class="s" x="400.20" y="362.80" font-size="15.5" text-anchor="middle" fill="#231f20" >B</text>
<text class="s" x="399.80" y="412.80" font-size="15.5" text-anchor="middle" fill="#231f20" >A</text>
<line x1="544.40" y1="417.60" x2="562.50" y2="430.60" stroke="#231f20" stroke-width="0.9" />
<path d="M565.80,433.20 L559.90,431.40 L562.90,427.20 Z" stroke="none" stroke-width="1.0" fill="#231f20" stroke-linejoin="miter" />
<text class="s" x="570.60" y="444.00" font-size="15.6" text-anchor="middle" fill="#231f20" >Paleogene</text>
<rect x="35.90" y="521.50" width="285.20" height="183.90" fill="none" stroke="#2b2b2b" stroke-width="1.4"/>
<line x1="35.90" y1="705.40" x2="35.90" y2="700.90" stroke="#231f20" stroke-width="1.1" />
<text class="s" x="35.90" y="720.90" font-size="15" text-anchor="middle" fill="#231f20" >0</text>
<line x1="92.94" y1="705.40" x2="92.94" y2="700.90" stroke="#231f20" stroke-width="1.1" />
<text class="s" x="92.94" y="720.90" font-size="15" text-anchor="middle" fill="#231f20" >2</text>
<line x1="149.98" y1="705.40" x2="149.98" y2="700.90" stroke="#231f20" stroke-width="1.1" />
<text class="s" x="149.98" y="720.90" font-size="15" text-anchor="middle" fill="#231f20" >4</text>
<line x1="207.02" y1="705.40" x2="207.02" y2="700.90" stroke="#231f20" stroke-width="1.1" />
<text class="s" x="207.02" y="720.90" font-size="15" text-anchor="middle" fill="#231f20" >6</text>
<line x1="264.06" y1="705.40" x2="264.06" y2="700.90" stroke="#231f20" stroke-width="1.1" />
<text class="s" x="264.06" y="720.90" font-size="15" text-anchor="middle" fill="#231f20" >8</text>
<line x1="321.10" y1="705.40" x2="321.10" y2="700.90" stroke="#231f20" stroke-width="1.1" />
<text class="s" x="321.10" y="720.90" font-size="15" text-anchor="middle" fill="#231f20" >10</text>
<line x1="35.90" y1="686.95" x2="38.90" y2="686.95" stroke="#231f20" stroke-width="1.0" />
<line x1="35.90" y1="676.15" x2="38.90" y2="676.15" stroke="#231f20" stroke-width="1.0" />
<line x1="35.90" y1="668.49" x2="38.90" y2="668.49" stroke="#231f20" stroke-width="1.0" />
<line x1="35.90" y1="662.55" x2="38.90" y2="662.55" stroke="#231f20" stroke-width="1.0" />
<line x1="35.90" y1="657.70" x2="38.90" y2="657.70" stroke="#231f20" stroke-width="1.0" />
<line x1="35.90" y1="653.60" x2="38.90" y2="653.60" stroke="#231f20" stroke-width="1.0" />
<line x1="35.90" y1="650.04" x2="38.90" y2="650.04" stroke="#231f20" stroke-width="1.0" />
<line x1="35.90" y1="646.90" x2="38.90" y2="646.90" stroke="#231f20" stroke-width="1.0" />
<line x1="35.90" y1="644.10" x2="41.90" y2="644.10" stroke="#231f20" stroke-width="1.0" />
<line x1="35.90" y1="625.65" x2="38.90" y2="625.65" stroke="#231f20" stroke-width="1.0" />
<line x1="35.90" y1="614.85" x2="38.90" y2="614.85" stroke="#231f20" stroke-width="1.0" />
<line x1="35.90" y1="607.19" x2="38.90" y2="607.19" stroke="#231f20" stroke-width="1.0" />
<line x1="35.90" y1="601.25" x2="38.90" y2="601.25" stroke="#231f20" stroke-width="1.0" />
<line x1="35.90" y1="596.40" x2="38.90" y2="596.40" stroke="#231f20" stroke-width="1.0" />
<line x1="35.90" y1="592.30" x2="38.90" y2="592.30" stroke="#231f20" stroke-width="1.0" />
<line x1="35.90" y1="588.74" x2="38.90" y2="588.74" stroke="#231f20" stroke-width="1.0" />
<line x1="35.90" y1="585.60" x2="38.90" y2="585.60" stroke="#231f20" stroke-width="1.0" />
<line x1="35.90" y1="582.80" x2="41.90" y2="582.80" stroke="#231f20" stroke-width="1.0" />
<line x1="35.90" y1="564.35" x2="38.90" y2="564.35" stroke="#231f20" stroke-width="1.0" />
<line x1="35.90" y1="553.55" x2="38.90" y2="553.55" stroke="#231f20" stroke-width="1.0" />
<line x1="35.90" y1="545.89" x2="38.90" y2="545.89" stroke="#231f20" stroke-width="1.0" />
<line x1="35.90" y1="539.95" x2="38.90" y2="539.95" stroke="#231f20" stroke-width="1.0" />
<line x1="35.90" y1="535.10" x2="38.90" y2="535.10" stroke="#231f20" stroke-width="1.0" />
<line x1="35.90" y1="531.00" x2="38.90" y2="531.00" stroke="#231f20" stroke-width="1.0" />
<line x1="35.90" y1="527.44" x2="38.90" y2="527.44" stroke="#231f20" stroke-width="1.0" />
<line x1="35.90" y1="524.30" x2="38.90" y2="524.30" stroke="#231f20" stroke-width="1.0" />
<text class="s" x="31.90" y="710.20" font-size="15" text-anchor="end" fill="#231f20" >0.1</text>
<text class="s" x="31.90" y="648.90" font-size="15" text-anchor="end" fill="#231f20" >1</text>
<text class="s" x="31.90" y="587.60" font-size="15" text-anchor="end" fill="#231f20" >10</text>
<text class="s" x="31.90" y="526.30" font-size="15" text-anchor="end" fill="#231f20" >100</text>
<text x="178.60" y="735.20" font-size="18.7" text-anchor="middle" fill="#231f20" >La/Sc</text>
<text x="14.00" y="613.40" font-size="18.5" text-anchor="middle" fill="#231f20" transform="rotate(-90 14.0 613.4)">Co/Th</text>
<text x="58.80" y="540.70" font-size="24.5" text-anchor="middle" fill="#231f20" >(d)</text>
<rect x="37.00" y="566.60" width="11.70" height="8.00" fill="none" stroke="#231f20" stroke-width="1.1"/>
<rect x="57.00" y="586.70" width="12.10" height="8.60" fill="none" stroke="#231f20" stroke-width="1.1"/>
<rect x="80.10" y="650.60" width="11.40" height="8.80" fill="none" stroke="#231f20" stroke-width="1.1"/>
<rect x="305.20" y="671.40" width="12.00" height="8.40" fill="none" stroke="#231f20" stroke-width="1.1"/>
<text class="s" x="51.50" y="575.00" font-size="15.5" text-anchor="start" fill="#231f20" >Basalt</text>
<text class="s" x="56.00" y="608.60" font-size="15.5" text-anchor="start" fill="#231f20" >Andesite</text>
<text class="s" x="57.00" y="672.60" font-size="15.5" text-anchor="start" fill="#231f20" >Felsic volcanic rocks</text>
<text class="s" x="317.50" y="693.00" font-size="15.5" text-anchor="end" fill="#231f20" >Granite</text>
<rect x="81.30" y="622.30" width="6.0" height="6.0" stroke="#e89e40" stroke-width="1.1" fill="none"/>
<rect x="88.30" y="621.90" width="6.0" height="6.0" stroke="#e89e40" stroke-width="1.1" fill="none"/>
<rect x="72.80" y="630.10" width="6.0" height="6.0" stroke="#e89e40" stroke-width="1.1" fill="none"/>
<rect x="83.90" y="632.10" width="6.0" height="6.0" stroke="#e89e40" stroke-width="1.1" fill="none"/>
<path d="M44.30,608.75 L48.55,613.00 L44.30,617.25 L40.05,613.00 Z" stroke="#33a7de" stroke-width="1.1" fill="none" stroke-linejoin="miter" />
<path d="M44.30,626.85 L48.55,631.10 L44.30,635.35 L40.05,631.10 Z" stroke="#33a7de" stroke-width="1.1" fill="none" stroke-linejoin="miter" />
<path d="M80.40,627.15 L84.65,631.40 L80.40,635.65 L76.15,631.40 Z" stroke="#33a7de" stroke-width="1.1" fill="none" stroke-linejoin="miter" />
<path d="M113.50,643.45 L117.75,647.70 L113.50,651.95 L109.25,647.70 Z" stroke="#33a7de" stroke-width="1.1" fill="none" stroke-linejoin="miter" />
<circle cx="51.50" cy="611.10" r="2.95" stroke="#26995f" stroke-width="1.1" fill="none"/>
<circle cx="80.80" cy="637.20" r="2.95" stroke="#26995f" stroke-width="1.1" fill="none"/>
<path d="M94.50,631.21 L98.65,638.39 L90.35,638.39 Z" stroke="#d43a3e" stroke-width="1.1" fill="none" stroke-linejoin="miter" />
<path d="M107.30,637.21 L111.45,644.39 L103.15,644.39 Z" stroke="#d43a3e" stroke-width="1.1" fill="none" stroke-linejoin="miter" />
<path d="M116.60,635.21 L120.75,642.39 L112.45,642.39 Z" stroke="#d43a3e" stroke-width="1.1" fill="none" stroke-linejoin="miter" />
<path d="M269.60,532.91 L273.75,540.09 L265.45,540.09 Z" stroke="#d43a3e" stroke-width="1.1" fill="none" stroke-linejoin="miter" />
<text x="276.70" y="541.72" font-size="19" text-anchor="start" fill="#231f20" >SGC</text>
<rect x="266.60" y="550.23" width="6.0" height="6.0" stroke="#e89e40" stroke-width="1.1" fill="none"/>
<text x="276.70" y="558.75" font-size="19" text-anchor="start" fill="#231f20" >UXG</text>
<circle cx="269.60" cy="570.26" r="2.95" stroke="#26995f" stroke-width="1.1" fill="none"/>
<text x="276.70" y="575.78" font-size="19" text-anchor="start" fill="#231f20" >LXG</text>
<path d="M269.60,583.04 L273.85,587.29 L269.60,591.54 L265.35,587.29 Z" stroke="#33a7de" stroke-width="1.1" fill="none" stroke-linejoin="miter" />
<text x="276.70" y="592.81" font-size="19" text-anchor="start" fill="#231f20" >LLH</text>
<rect x="389.90" y="521.40" width="285.10" height="183.90" fill="none" stroke="#2b2b2b" stroke-width="1.4"/>
<line x1="411.36" y1="705.30" x2="411.36" y2="701.90" stroke="#231f20" stroke-width="1.0" />
<line x1="423.91" y1="705.30" x2="423.91" y2="701.90" stroke="#231f20" stroke-width="1.0" />
<line x1="432.81" y1="705.30" x2="432.81" y2="701.90" stroke="#231f20" stroke-width="1.0" />
<line x1="439.72" y1="705.30" x2="439.72" y2="701.90" stroke="#231f20" stroke-width="1.0" />
<line x1="445.36" y1="705.30" x2="445.36" y2="701.90" stroke="#231f20" stroke-width="1.0" />
<line x1="450.13" y1="705.30" x2="450.13" y2="701.90" stroke="#231f20" stroke-width="1.0" />
<line x1="454.27" y1="705.30" x2="454.27" y2="701.90" stroke="#231f20" stroke-width="1.0" />
<line x1="457.91" y1="705.30" x2="457.91" y2="701.90" stroke="#231f20" stroke-width="1.0" />
<line x1="461.17" y1="705.30" x2="461.17" y2="698.80" stroke="#231f20" stroke-width="1.0" />
<line x1="482.63" y1="705.30" x2="482.63" y2="701.90" stroke="#231f20" stroke-width="1.0" />
<line x1="495.18" y1="705.30" x2="495.18" y2="701.90" stroke="#231f20" stroke-width="1.0" />
<line x1="504.09" y1="705.30" x2="504.09" y2="701.90" stroke="#231f20" stroke-width="1.0" />
<line x1="510.99" y1="705.30" x2="510.99" y2="701.90" stroke="#231f20" stroke-width="1.0" />
<line x1="516.64" y1="705.30" x2="516.64" y2="701.90" stroke="#231f20" stroke-width="1.0" />
<line x1="521.41" y1="705.30" x2="521.41" y2="701.90" stroke="#231f20" stroke-width="1.0" />
<line x1="525.54" y1="705.30" x2="525.54" y2="701.90" stroke="#231f20" stroke-width="1.0" />
<line x1="529.19" y1="705.30" x2="529.19" y2="701.90" stroke="#231f20" stroke-width="1.0" />
<line x1="532.45" y1="705.30" x2="532.45" y2="698.80" stroke="#231f20" stroke-width="1.0" />
<line x1="553.91" y1="705.30" x2="553.91" y2="701.90" stroke="#231f20" stroke-width="1.0" />
<line x1="566.46" y1="705.30" x2="566.46" y2="701.90" stroke="#231f20" stroke-width="1.0" />
<line x1="575.36" y1="705.30" x2="575.36" y2="701.90" stroke="#231f20" stroke-width="1.0" />
<line x1="582.27" y1="705.30" x2="582.27" y2="701.90" stroke="#231f20" stroke-width="1.0" />
<line x1="587.91" y1="705.30" x2="587.91" y2="701.90" stroke="#231f20" stroke-width="1.0" />
<line x1="592.68" y1="705.30" x2="592.68" y2="701.90" stroke="#231f20" stroke-width="1.0" />
<line x1="596.82" y1="705.30" x2="596.82" y2="701.90" stroke="#231f20" stroke-width="1.0" />
<line x1="600.46" y1="705.30" x2="600.46" y2="701.90" stroke="#231f20" stroke-width="1.0" />
<line x1="603.73" y1="705.30" x2="603.73" y2="698.80" stroke="#231f20" stroke-width="1.0" />
<line x1="625.18" y1="705.30" x2="625.18" y2="701.90" stroke="#231f20" stroke-width="1.0" />
<line x1="637.73" y1="705.30" x2="637.73" y2="701.90" stroke="#231f20" stroke-width="1.0" />
<line x1="646.64" y1="705.30" x2="646.64" y2="701.90" stroke="#231f20" stroke-width="1.0" />
<line x1="653.54" y1="705.30" x2="653.54" y2="701.90" stroke="#231f20" stroke-width="1.0" />
<line x1="659.19" y1="705.30" x2="659.19" y2="701.90" stroke="#231f20" stroke-width="1.0" />
<line x1="663.96" y1="705.30" x2="663.96" y2="701.90" stroke="#231f20" stroke-width="1.0" />
<line x1="668.09" y1="705.30" x2="668.09" y2="701.90" stroke="#231f20" stroke-width="1.0" />
<line x1="671.74" y1="705.30" x2="671.74" y2="701.90" stroke="#231f20" stroke-width="1.0" />
<text class="s" x="389.90" y="720.80" font-size="15" text-anchor="middle" fill="#231f20" >1</text>
<text class="s" x="461.17" y="720.80" font-size="15" text-anchor="middle" fill="#231f20" >10</text>
<text class="s" x="532.45" y="720.80" font-size="15" text-anchor="middle" fill="#231f20" >100</text>
<text class="s" x="603.73" y="720.80" font-size="15" text-anchor="middle" fill="#231f20" >1000</text>
<text class="s" x="682.80" y="720.80" font-size="15" text-anchor="end" fill="#231f20" >10000</text>
<line x1="389.90" y1="691.46" x2="393.50" y2="691.46" stroke="#231f20" stroke-width="1.0" />
<line x1="389.90" y1="683.36" x2="393.50" y2="683.36" stroke="#231f20" stroke-width="1.0" />
<line x1="389.90" y1="677.62" x2="393.50" y2="677.62" stroke="#231f20" stroke-width="1.0" />
<line x1="389.90" y1="673.16" x2="393.50" y2="673.16" stroke="#231f20" stroke-width="1.0" />
<line x1="389.90" y1="669.52" x2="393.50" y2="669.52" stroke="#231f20" stroke-width="1.0" />
<line x1="389.90" y1="666.45" x2="393.50" y2="666.45" stroke="#231f20" stroke-width="1.0" />
<line x1="389.90" y1="663.78" x2="393.50" y2="663.78" stroke="#231f20" stroke-width="1.0" />
<line x1="389.90" y1="661.43" x2="393.50" y2="661.43" stroke="#231f20" stroke-width="1.0" />
<line x1="389.90" y1="659.32" x2="396.90" y2="659.32" stroke="#231f20" stroke-width="1.0" />
<line x1="389.90" y1="645.49" x2="393.50" y2="645.49" stroke="#231f20" stroke-width="1.0" />
<line x1="389.90" y1="637.39" x2="393.50" y2="637.39" stroke="#231f20" stroke-width="1.0" />
<line x1="389.90" y1="631.65" x2="393.50" y2="631.65" stroke="#231f20" stroke-width="1.0" />
<line x1="389.90" y1="627.19" x2="393.50" y2="627.19" stroke="#231f20" stroke-width="1.0" />
<line x1="389.90" y1="623.55" x2="393.50" y2="623.55" stroke="#231f20" stroke-width="1.0" />
<line x1="389.90" y1="620.47" x2="393.50" y2="620.47" stroke="#231f20" stroke-width="1.0" />
<line x1="389.90" y1="617.81" x2="393.50" y2="617.81" stroke="#231f20" stroke-width="1.0" />
<line x1="389.90" y1="615.45" x2="393.50" y2="615.45" stroke="#231f20" stroke-width="1.0" />
<line x1="389.90" y1="613.35" x2="396.90" y2="613.35" stroke="#231f20" stroke-width="1.0" />
<line x1="389.90" y1="599.51" x2="393.50" y2="599.51" stroke="#231f20" stroke-width="1.0" />
<line x1="389.90" y1="591.41" x2="393.50" y2="591.41" stroke="#231f20" stroke-width="1.0" />
<line x1="389.90" y1="585.67" x2="393.50" y2="585.67" stroke="#231f20" stroke-width="1.0" />
<line x1="389.90" y1="581.21" x2="393.50" y2="581.21" stroke="#231f20" stroke-width="1.0" />
<line x1="389.90" y1="577.57" x2="393.50" y2="577.57" stroke="#231f20" stroke-width="1.0" />
<line x1="389.90" y1="574.50" x2="393.50" y2="574.50" stroke="#231f20" stroke-width="1.0" />
<line x1="389.90" y1="571.83" x2="393.50" y2="571.83" stroke="#231f20" stroke-width="1.0" />
<line x1="389.90" y1="569.48" x2="393.50" y2="569.48" stroke="#231f20" stroke-width="1.0" />
<line x1="389.90" y1="567.38" x2="396.90" y2="567.38" stroke="#231f20" stroke-width="1.0" />
<line x1="389.90" y1="553.54" x2="393.50" y2="553.54" stroke="#231f20" stroke-width="1.0" />
<line x1="389.90" y1="545.44" x2="393.50" y2="545.44" stroke="#231f20" stroke-width="1.0" />
<line x1="389.90" y1="539.70" x2="393.50" y2="539.70" stroke="#231f20" stroke-width="1.0" />
<line x1="389.90" y1="535.24" x2="393.50" y2="535.24" stroke="#231f20" stroke-width="1.0" />
<line x1="389.90" y1="531.60" x2="393.50" y2="531.60" stroke="#231f20" stroke-width="1.0" />
<line x1="389.90" y1="528.52" x2="393.50" y2="528.52" stroke="#231f20" stroke-width="1.0" />
<line x1="389.90" y1="525.86" x2="393.50" y2="525.86" stroke="#231f20" stroke-width="1.0" />
<line x1="389.90" y1="523.50" x2="393.50" y2="523.50" stroke="#231f20" stroke-width="1.0" />
<text class="s" x="385.90" y="710.10" font-size="15" text-anchor="end" fill="#231f20" >0.1</text>
<text class="s" x="385.90" y="664.12" font-size="15" text-anchor="end" fill="#231f20" >1</text>
<text class="s" x="385.90" y="618.15" font-size="15" text-anchor="end" fill="#231f20" >10</text>
<text class="s" x="385.90" y="572.17" font-size="15" text-anchor="end" fill="#231f20" >100</text>
<text class="s" x="385.90" y="526.20" font-size="15" text-anchor="end" fill="#231f20" >1000</text>
<text x="532.20" y="735.40" font-size="18.8" text-anchor="middle" fill="#231f20" >&#931;REE</text>
<text x="366.60" y="613.40" font-size="18.2" text-anchor="middle" fill="#231f20" transform="rotate(-90 366.6 613.4)">La/Yb</text>
<text x="412.20" y="540.70" font-size="24.5" text-anchor="middle" fill="#231f20" >(e)</text>
<path d="M466.00,557.30 L545.10,557.30 L568.30,577.60 L568.30,628.20 L466.90,628.20 Z" stroke="#2b2b2b" stroke-width="1.0" fill="none" stroke-linejoin="miter" />
<path d="M568.30,577.60 L616.10,578.40 L651.40,605.20 L651.40,636.60 L601.20,636.60 L542.50,605.50 L568.30,577.60" stroke="#2b2b2b" stroke-width="1.0" fill="none" stroke-linejoin="miter" />
<path d="M469.90,689.00 L547.30,689.00 L631.80,601.20 L561.20,601.00 Z" stroke="#2b2b2b" stroke-width="1.0" fill="none" stroke-linejoin="miter" />
<line x1="573.10" y1="630.00" x2="593.30" y2="609.60" stroke="#231f20" stroke-width="0.9" />
<line x1="608.20" y1="610.80" x2="632.70" y2="642.30" stroke="#231f20" stroke-width="0.9" />
<line x1="535.90" y1="667.40" x2="551.20" y2="652.40" stroke="#231f20" stroke-width="0.9" />
<line x1="457.00" y1="627.50" x2="478.40" y2="620.30" stroke="#231f20" stroke-width="0.9" />
<text class="s" x="506.60" y="574.00" font-size="15.5" text-anchor="middle" fill="#231f20" >Sedimentary</text>
<text class="s" x="506.60" y="587.00" font-size="15.5" text-anchor="middle" fill="#231f20" >rock</text>
<text class="s" x="594.00" y="593.40" font-size="16.0" text-anchor="middle" fill="#231f20" >Granite</text>
<text class="s" x="435.50" y="638.40" font-size="15.5" text-anchor="middle" fill="#231f20" >Calcareous</text>
<text class="s" x="435.50" y="651.40" font-size="15.5" text-anchor="middle" fill="#231f20" >mudstone</text>
<text class="s" x="435.80" y="673.80" font-size="15.5" text-anchor="middle" fill="#231f20" >Chondrite</text>
<text class="s" x="562.00" y="638.80" font-size="14.6" text-anchor="middle" fill="#231f20" >Continental</text>
<text class="s" x="562.00" y="650.00" font-size="14.6" text-anchor="middle" fill="#231f20" >tholeiite</text>
<text class="s" x="524.00" y="687.60" font-size="14.7" text-anchor="middle" fill="#231f20" >basalt</text>
<text class="s" x="523.30" y="677.00" font-size="14.6" text-anchor="middle" fill="#231f20" >Oceanic</text>
<text class="s" x="633.30" y="654.00" font-size="15.5" text-anchor="middle" fill="#231f20" >Alkaline</text>
<text class="s" x="633.10" y="667.80" font-size="15.5" text-anchor="middle" fill="#231f20" >basalt</text>
<text class="s" x="0.00" y="0.00" font-size="15.0" text-anchor="middle" fill="#231f20" transform="translate(523.0 658.2) rotate(-44)">Basalt</text>
<path d="M491.90,608.15 L496.15,612.40 L491.90,616.65 L487.65,612.40 Z" stroke="#33a7de" stroke-width="1.1" fill="none" stroke-linejoin="miter" />
<path d="M499.70,608.15 L503.95,612.40 L499.70,616.65 L495.45,612.40 Z" stroke="#33a7de" stroke-width="1.1" fill="none" stroke-linejoin="miter" />
<circle cx="522.00" cy="608.60" r="2.95" stroke="#26995f" stroke-width="1.1" fill="none"/>
<rect x="553.50" y="580.40" width="6.0" height="6.0" stroke="#e89e40" stroke-width="1.1" fill="none"/>
<rect x="537.20" y="601.10" width="6.0" height="6.0" stroke="#e89e40" stroke-width="1.1" fill="none"/>
<rect x="544.80" y="612.50" width="6.0" height="6.0" stroke="#e89e40" stroke-width="1.1" fill="none"/>
<rect x="540.50" y="609.00" width="6.0" height="6.0" stroke="#e89e40" stroke-width="1.1" fill="none"/>
<path d="M545.00,608.21 L549.15,615.39 L540.85,615.39 Z" stroke="#d43a3e" stroke-width="1.1" fill="none" stroke-linejoin="miter" />
<path d="M544.00,611.21 L548.15,618.39 L539.85,618.39 Z" stroke="#d43a3e" stroke-width="1.1" fill="none" stroke-linejoin="miter" />
<circle cx="541.60" cy="609.70" r="2.95" stroke="#26995f" stroke-width="1.1" fill="none"/>
<circle cx="545.50" cy="612.50" r="2.95" stroke="#26995f" stroke-width="1.1" fill="none"/>
<path d="M545.40,612.45 L549.65,616.70 L545.40,620.95 L541.15,616.70 Z" stroke="#33a7de" stroke-width="1.1" fill="none" stroke-linejoin="miter" />
<path d="M543.90,605.05 L548.15,609.30 L543.90,613.55 L539.65,609.30 Z" stroke="#33a7de" stroke-width="1.1" fill="none" stroke-linejoin="miter" />
<path d="M546.50,608.75 L550.75,613.00 L546.50,617.25 L542.25,613.00 Z" stroke="#33a7de" stroke-width="1.1" fill="none" stroke-linejoin="miter" />
<path d="M561.00,533.01 L565.15,540.19 L556.85,540.19 Z" stroke="#d43a3e" stroke-width="1.1" fill="none" stroke-linejoin="miter" />
<rect x="558.00" y="549.80" width="6.0" height="6.0" stroke="#e89e40" stroke-width="1.1" fill="none"/>
<circle cx="623.30" cy="536.50" r="2.95" stroke="#26995f" stroke-width="1.1" fill="none"/>
<path d="M623.30,548.35 L627.55,552.60 L623.30,556.85 L619.05,552.60 Z" stroke="#33a7de" stroke-width="1.1" fill="none" stroke-linejoin="miter" />
<text x="568.20" y="541.37" font-size="19" text-anchor="start" fill="#231f20" >SGC</text>
<text x="568.20" y="558.07" font-size="19" text-anchor="start" fill="#231f20" >UXG</text>
<text x="631.50" y="541.37" font-size="19" text-anchor="start" fill="#231f20" >LXG</text>
<text x="631.50" y="558.07" font-size="19" text-anchor="start" fill="#231f20" >LLH</text>
</svg>
</body></html>
